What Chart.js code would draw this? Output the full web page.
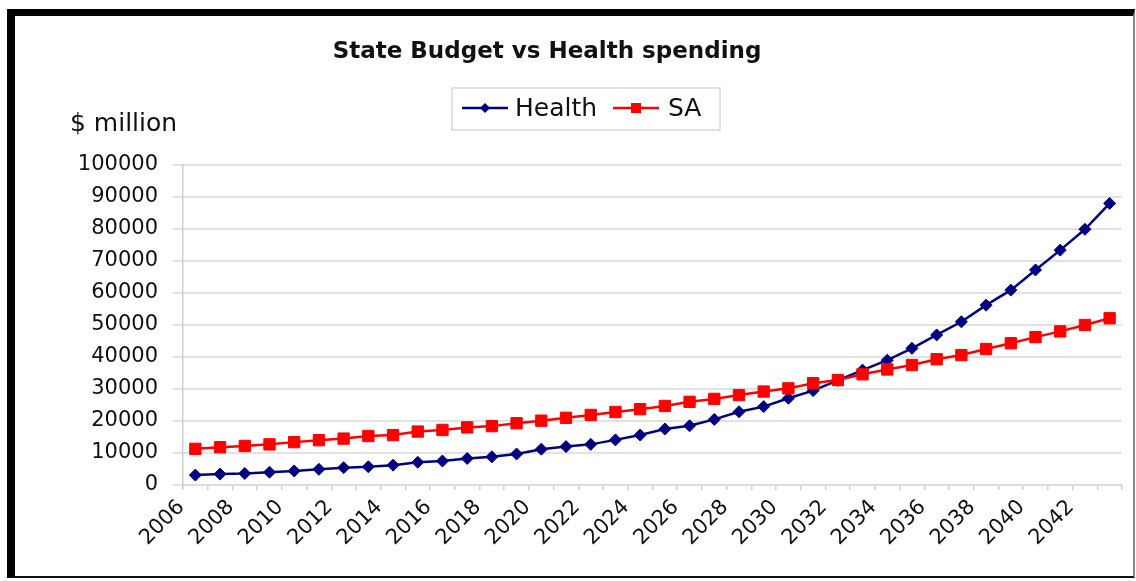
<!DOCTYPE html>
<html lang="en">
<head>
  <meta charset="UTF-8">
  <title>State Budget vs Health spending</title>
  <script src="https://cdn.jsdelivr.net/npm/chart.js"></script>
  <style>
    body { margin: 0; background: #fff; }
    #frame {
      position: absolute; left: 7px; top: 9px;
      width: 1118px; height: 560px; background: #fff;
      border-left: 8px solid #000; border-top: 7px solid #000;
      border-right: 2px solid #888; border-bottom: 2px solid #111;
    }
  </style>
</head>
<body>
  <div id="frame">
    <canvas id="myChart" width="1118" height="560"></canvas>
  </div>

  <script>
    // years on the category axis
    const years = [2006, 2007, 2008, 2009, 2010, 2011, 2012, 2013, 2014, 2015,
                   2016, 2017, 2018, 2019, 2020, 2021, 2022, 2023, 2024, 2025,
                   2026, 2027, 2028, 2029, 2030, 2031, 2032, 2033, 2034, 2035,
                   2036, 2037, 2038, 2039, 2040, 2041, 2042, 2043];

    // $ million
    const health = [3100, 3400, 3600, 4000, 4400, 4900, 5400, 5700, 6200, 7100,
                    7500, 8300, 8800, 9700, 11200, 12000, 12700, 14100, 15600, 17500,
                    18500, 20500, 22900, 24500, 27100, 29500, 32700, 35900, 39000, 42700,
                    46900, 51000, 56200, 60900, 67200, 73400, 79900, 88000];
    const sa = [11300, 11800, 12200, 12700, 13400, 14000, 14500, 15300, 15600, 16700,
                17200, 18000, 18400, 19300, 20100, 21000, 21900, 22800, 23700, 24700,
                26000, 26900, 28100, 29200, 30200, 31800, 32800, 34600, 36100, 37500,
                39300, 40600, 42500, 44300, 46200, 48000, 50000, 52100];

    const yMax = 100000;
    const yStep = 10000;

    const FONT = 'DejaVu Sans';

    // title, "$ million" and the boxed legend
    const extras = {
      id: 'extras',
      afterDraw(chart) {
        const ctx = chart.ctx;
        ctx.save();
        ctx.fillStyle = '#111';
        ctx.textBaseline = 'alphabetic';

        ctx.font = 'bold 23px ' + FONT;
        ctx.textAlign = 'center';
        ctx.fillText('State Budget vs Health spending', 532, 42);

        ctx.font = '25px ' + FONT;
        ctx.textAlign = 'left';
        ctx.fillText('$ million', 55, 115);

        // legend box
        ctx.strokeStyle = '#d8d8d8';
        ctx.lineWidth = 1.5;
        ctx.strokeRect(437, 72, 268, 42);

        const items = [
          { ds: chart.data.datasets[0], x0: 447, text: 500 },
          { ds: chart.data.datasets[1], x0: 598, text: 653 }
        ];
        const ly = 92;
        items.forEach(it => {
          const ds = it.ds;
          ctx.strokeStyle = ds.borderColor;
          ctx.lineWidth = ds.borderWidth;
          ctx.beginPath();
          ctx.moveTo(it.x0, ly);
          ctx.lineTo(it.x0 + 46, ly);
          ctx.stroke();
          const cx = it.x0 + 23;
          ctx.fillStyle = ds.backgroundColor;
          ctx.beginPath();
          if (ds.pointStyle === 'rectRot') {
            const r = 5;
            ctx.moveTo(cx, ly - r); ctx.lineTo(cx + r, ly);
            ctx.lineTo(cx, ly + r); ctx.lineTo(cx - r, ly);
            ctx.closePath();
          } else {
            ctx.rect(cx - 5, ly - 5, 10, 10);
          }
          ctx.fill();
          ctx.fillStyle = '#111';
          ctx.font = '25px ' + FONT;
          ctx.textBaseline = 'middle';
          ctx.fillText(ds.label, it.text, ly + 1);
        });
        ctx.restore();
      }
    };

    var ctx = document.getElementById('myChart').getContext('2d');
    var myChart = new Chart(ctx, {
      type: 'line',
      data: {
        labels: years,
        datasets: [{
          label: 'Health',
          data: health,
          borderColor: '#000080',
          backgroundColor: '#000080',
          borderWidth: 2.5,
          pointStyle: 'rectRot',
          pointRadius: 6,
          pointBorderWidth: 1,
          tension: 0,
          order: 1
        }, {
          label: 'SA',
          data: sa,
          borderColor: '#ff0000',
          backgroundColor: '#ff0000',
          borderWidth: 2.5,
          pointStyle: 'rect',
          pointRadius: 8,
          pointBorderWidth: 1,
          tension: 0,
          order: 0
        }]
      },
      options: {
        responsive: false,
        animation: false,
        layout: { padding: { top: 149, left: 0, right: 11, bottom: 0 } },
        plugins: {
          legend: { display: false },
          title: { display: false },
          tooltip: { enabled: false }
        },
        scales: {
          x: {
            offset: true,
            afterFit(scale) { scale.height = 91; },
            grid: {
              offset: true,
              drawOnChartArea: false,
              tickLength: 5,
              tickColor: '#cfcfcf',
              lineWidth: 1.5
            },
            border: { color: '#dcdcdc', width: 2 },
            ticks: {
              autoSkip: false,
              maxRotation: 45,
              minRotation: 45,
              labelOffset: -14,
              padding: 5,
              color: '#111',
              font: { family: FONT, size: 21 },
              callback: (v, i) => (i % 2 === 0 ? String(years[i]) : '')
            }
          },
          y: {
            min: 0,
            max: yMax,
            afterFit(scale) { scale.width = 168; },
            grid: {
              color: '#e2e2e2',
              lineWidth: 2,
              tickLength: 10,
              tickColor: '#e2e2e2'
            },
            border: { color: '#cdcdcd', width: 1.5 },
            ticks: {
              stepSize: yStep,
              padding: 15,
              color: '#111',
              font: { family: FONT, size: 21 },
              callback: v => String(v)
            }
          }
        }
      },
      plugins: [extras]
    });
  </script>
</body>
</html>
